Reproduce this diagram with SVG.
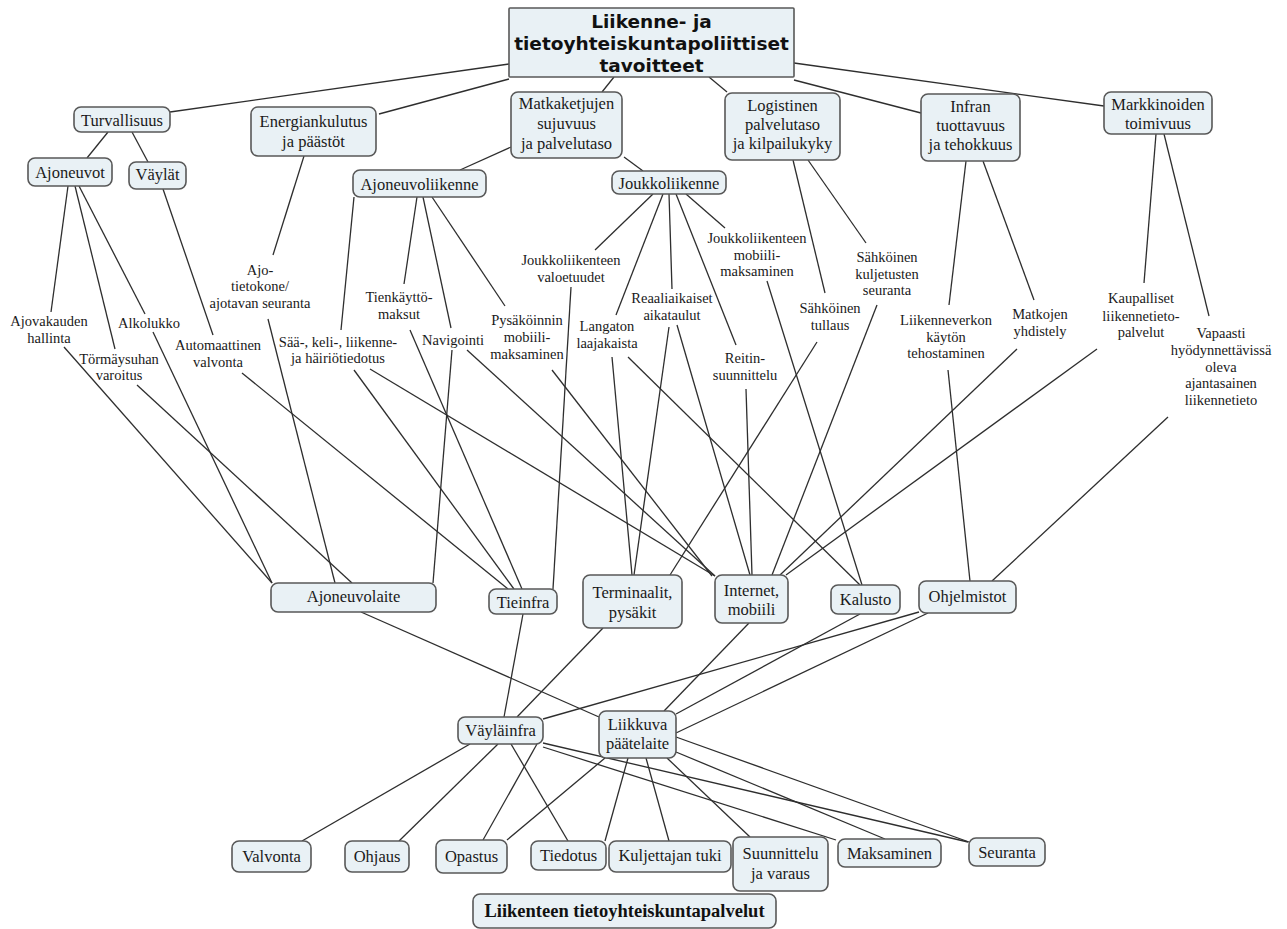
<svg xmlns="http://www.w3.org/2000/svg" width="1287" height="929" viewBox="0 0 1287 929">
<style>
.bg{fill:#ffffff}
.box{fill:#e9f1f5;stroke:#585858;stroke-width:1.6}
.t{font-family:"Liberation Serif","Times New Roman",serif;font-size:16.5px;fill:#1a1a1a;text-anchor:middle}
.l{font-family:"Liberation Serif","Times New Roman",serif;font-size:14.5px;fill:#1a1a1a;text-anchor:middle}
.title{font-family:"DejaVu Sans",Verdana,sans-serif;font-weight:bold;font-size:18.5px;fill:#111;text-anchor:middle}
.bt{font-family:"Liberation Serif","Times New Roman",serif;font-weight:bold;font-size:18.5px;fill:#111;text-anchor:middle}
#connectors line{stroke:#2e2e2e;stroke-width:1.3;fill:none}
</style>
<rect class="bg" x="0" y="0" width="1287" height="929"/>
<g id="connectors">
<line x1="170" y1="112" x2="509" y2="64"/>
<line x1="379" y1="114" x2="509" y2="79"/>
<line x1="602" y1="92" x2="614" y2="77"/>
<line x1="709" y1="77" x2="727" y2="92"/>
<line x1="794" y1="80" x2="921" y2="113"/>
<line x1="794" y1="63" x2="1104" y2="106"/>
<line x1="108" y1="132" x2="87" y2="158"/>
<line x1="132" y1="132" x2="148" y2="162"/>
<line x1="511" y1="147" x2="460" y2="170"/>
<line x1="624" y1="157" x2="643" y2="171"/>
<line x1="304" y1="156" x2="273" y2="255"/>
<line x1="68" y1="186" x2="51" y2="312"/>
<line x1="75" y1="186" x2="115" y2="349"/>
<line x1="79" y1="186" x2="145" y2="314"/>
<line x1="163" y1="189" x2="213" y2="335"/>
<line x1="354" y1="197" x2="341" y2="330"/>
<line x1="417" y1="197" x2="404" y2="284"/>
<line x1="423" y1="197" x2="451" y2="328"/>
<line x1="432" y1="197" x2="505" y2="306"/>
<line x1="653" y1="194" x2="595" y2="250"/>
<line x1="663" y1="194" x2="616" y2="315"/>
<line x1="669" y1="194" x2="672" y2="289"/>
<line x1="676" y1="194" x2="736" y2="345"/>
<line x1="686" y1="194" x2="725" y2="228"/>
<line x1="793" y1="160" x2="825" y2="293"/>
<line x1="808" y1="160" x2="866" y2="243"/>
<line x1="966" y1="161" x2="949" y2="305"/>
<line x1="983" y1="161" x2="1034" y2="300"/>
<line x1="1156" y1="134" x2="1144" y2="283"/>
<line x1="1164" y1="134" x2="1209" y2="316"/>
<line x1="64" y1="347" x2="272" y2="583"/>
<line x1="153" y1="332" x2="272" y2="583"/>
<line x1="137" y1="385" x2="352" y2="583"/>
<line x1="268" y1="319" x2="335" y2="583"/>
<line x1="452" y1="350" x2="433" y2="583"/>
<line x1="242" y1="373" x2="508" y2="589"/>
<line x1="354" y1="370" x2="514" y2="589"/>
<line x1="410" y1="330" x2="522" y2="589"/>
<line x1="571" y1="287" x2="553" y2="589"/>
<line x1="370" y1="369" x2="715" y2="576"/>
<line x1="467" y1="350" x2="715" y2="576"/>
<line x1="552" y1="370" x2="712" y2="576"/>
<line x1="612" y1="357" x2="632" y2="575"/>
<line x1="669" y1="327" x2="634" y2="575"/>
<line x1="817" y1="342" x2="670" y2="575"/>
<line x1="677" y1="325" x2="750" y2="575"/>
<line x1="746" y1="389" x2="752" y2="575"/>
<line x1="877" y1="305" x2="772" y2="575"/>
<line x1="1017" y1="349" x2="780" y2="575"/>
<line x1="1097" y1="349" x2="786" y2="575"/>
<line x1="767" y1="281" x2="862" y2="585"/>
<line x1="628" y1="357" x2="860" y2="585"/>
<line x1="948" y1="370" x2="970" y2="581"/>
<line x1="1168" y1="417" x2="992" y2="581"/>
<line x1="361" y1="612" x2="599" y2="717"/>
<line x1="523" y1="614" x2="504" y2="717"/>
<line x1="603" y1="628" x2="517" y2="717"/>
<line x1="919" y1="612" x2="543" y2="719"/>
<line x1="749" y1="623" x2="664" y2="711"/>
<line x1="860" y1="614" x2="676" y2="714"/>
<line x1="928" y1="613" x2="676" y2="733"/>
<line x1="470" y1="744" x2="302" y2="841"/>
<line x1="498" y1="744" x2="399" y2="841"/>
<line x1="537" y1="744" x2="483" y2="840"/>
<line x1="511" y1="744" x2="568" y2="841"/>
<line x1="543" y1="743" x2="968" y2="842"/>
<line x1="543" y1="747" x2="836" y2="840"/>
<line x1="605" y1="758" x2="507" y2="840"/>
<line x1="628" y1="758" x2="605" y2="841"/>
<line x1="646" y1="758" x2="669" y2="841"/>
<line x1="667" y1="758" x2="750" y2="837"/>
<line x1="676" y1="752" x2="885" y2="839"/>
<line x1="676" y1="737" x2="969" y2="842"/>
</g>
<g id="n-title"><rect class="box" x="509" y="8" width="285" height="69" rx="1"/><text class="title" x="651.5" y="28">Liikenne- ja</text><text class="title" x="651.5" y="50">tietoyhteiskuntapoliittiset</text><text class="title" x="651.5" y="72">tavoitteet</text></g>
<g id="n-turvallisuus"><rect class="box" x="74" y="107" width="96" height="25" rx="7"/><text class="t" x="122" y="125.5">Turvallisuus</text></g>
<g id="n-energia"><rect class="box" x="251" y="107" width="125" height="49" rx="7"/><text class="t" x="313.5" y="126.5">Energiankulutus</text><text class="t" x="313.5" y="146.5">ja päästöt</text></g>
<g id="n-ajoneuvot"><rect class="box" x="28" y="158" width="84" height="28" rx="7"/><text class="t" x="70" y="177.5">Ajoneuvot</text></g>
<g id="n-vaylat"><rect class="box" x="129" y="162" width="57" height="27" rx="7"/><text class="t" x="157.5" y="179.5">Väylät</text></g>
<g id="n-ajoneuvoliikenne"><rect class="box" x="353" y="170" width="133" height="27" rx="7"/><text class="t" x="419.5" y="190">Ajoneuvoliikenne</text></g>
<g id="n-matkaketjut"><rect class="box" x="511" y="92" width="111" height="66" rx="7"/><text class="t" x="566.5" y="108.5">Matkaketjujen</text><text class="t" x="566.5" y="128.5">sujuvuus</text><text class="t" x="566.5" y="148.5">ja palvelutaso</text></g>
<g id="n-joukkoliikenne"><rect class="box" x="612" y="171" width="114" height="23" rx="7"/><text class="t" x="669" y="188.5">Joukkoliikenne</text></g>
<g id="n-logistinen"><rect class="box" x="725" y="93" width="115" height="67" rx="7"/><text class="t" x="782.5" y="110.5">Logistinen</text><text class="t" x="782.5" y="129.5">palvelutaso</text><text class="t" x="782.5" y="148.5">ja kilpailukyky</text></g>
<g id="n-infran"><rect class="box" x="921" y="94" width="99" height="67" rx="7"/><text class="t" x="970.5" y="111.5">Infran</text><text class="t" x="970.5" y="131">tuottavuus</text><text class="t" x="970.5" y="149.5">ja tehokkuus</text></g>
<g id="n-markkinat"><rect class="box" x="1104" y="92" width="108" height="42" rx="7"/><text class="t" x="1158" y="109.5">Markkinoiden</text><text class="t" x="1158" y="128.5">toimivuus</text></g>
<g id="lbl-ajotietokone"><text class="l" x="260" y="275">Ajo-</text><text class="l" x="260" y="291">tietokone/</text><text class="l" x="260" y="308">ajotavan seuranta</text></g>
<g id="lbl-ajovakaus"><text class="l" x="49" y="326">Ajovakauden</text><text class="l" x="49" y="343">hallinta</text></g>
<g id="lbl-alkolukko"><text class="l" x="149" y="328">Alkolukko</text></g>
<g id="lbl-tormays"><text class="l" x="119" y="364">Törmäysuhan</text><text class="l" x="119" y="380">varoitus</text></g>
<g id="lbl-automaattinen"><text class="l" x="218" y="350">Automaattinen</text><text class="l" x="218" y="367">valvonta</text></g>
<g id="lbl-saa"><text class="l" x="338" y="347">Sää-, keli-, liikenne-</text><text class="l" x="338" y="363">ja häiriötiedotus</text></g>
<g id="lbl-tienkaytto"><text class="l" x="399" y="302">Tienkäyttö-</text><text class="l" x="399" y="319">maksut</text></g>
<g id="lbl-navigointi"><text class="l" x="453" y="345">Navigointi</text></g>
<g id="lbl-pysakointi"><text class="l" x="527" y="325">Pysäköinnin</text><text class="l" x="527" y="342">mobiili-</text><text class="l" x="527" y="359">maksaminen</text></g>
<g id="lbl-valoetuudet"><text class="l" x="571" y="265">Joukkoliikenteen</text><text class="l" x="571" y="282">valoetuudet</text></g>
<g id="lbl-langaton"><text class="l" x="607" y="331">Langaton</text><text class="l" x="607" y="348">laajakaista</text></g>
<g id="lbl-reaaliaikaiset"><text class="l" x="672" y="303">Reaaliaikaiset</text><text class="l" x="672" y="320">aikataulut</text></g>
<g id="lbl-jlmaksaminen"><text class="l" x="757" y="243">Joukkoliikenteen</text><text class="l" x="757" y="260">mobiili-</text><text class="l" x="757" y="276">maksaminen</text></g>
<g id="lbl-reitin"><text class="l" x="745" y="363">Reitin-</text><text class="l" x="745" y="380">suunnittelu</text></g>
<g id="lbl-tullaus"><text class="l" x="830" y="313">Sähköinen</text><text class="l" x="830" y="330">tullaus</text></g>
<g id="lbl-kuljetusten"><text class="l" x="887" y="262">Sähköinen</text><text class="l" x="887" y="279">kuljetusten</text><text class="l" x="887" y="295">seuranta</text></g>
<g id="lbl-liikenneverkon"><text class="l" x="946" y="325">Liikenneverkon</text><text class="l" x="946" y="342">käytön</text><text class="l" x="946" y="358">tehostaminen</text></g>
<g id="lbl-matkojen"><text class="l" x="1040" y="319">Matkojen</text><text class="l" x="1040" y="336">yhdistely</text></g>
<g id="lbl-kaupalliset"><text class="l" x="1141" y="303">Kaupalliset</text><text class="l" x="1141" y="321">liikennetieto-</text><text class="l" x="1141" y="337">palvelut</text></g>
<g id="lbl-vapaasti"><text class="l" x="1221" y="338">Vapaasti</text><text class="l" x="1221" y="355">hyödynnettävissä</text><text class="l" x="1221" y="372">oleva</text><text class="l" x="1221" y="388">ajantasainen</text><text class="l" x="1221" y="405">liikennetieto</text></g>
<g id="n-ajoneuvolaite"><rect class="box" x="271" y="583" width="165" height="29" rx="7"/><text class="t" x="353.5" y="601.5">Ajoneuvolaite</text></g>
<g id="n-tieinfra"><rect class="box" x="489" y="589" width="68" height="25" rx="7"/><text class="t" x="523" y="607.5">Tieinfra</text></g>
<g id="n-terminaalit"><rect class="box" x="583" y="575" width="99" height="53" rx="7"/><text class="t" x="632.5" y="597.5">Terminaalit,</text><text class="t" x="632.5" y="617.5">pysäkit</text></g>
<g id="n-internet"><rect class="box" x="715" y="575" width="73" height="48" rx="7"/><text class="t" x="751.5" y="595.5">Internet,</text><text class="t" x="751.5" y="614.5">mobiili</text></g>
<g id="n-kalusto"><rect class="box" x="831" y="585" width="69" height="29" rx="7"/><text class="t" x="865.5" y="604.5">Kalusto</text></g>
<g id="n-ohjelmistot"><rect class="box" x="919" y="581" width="97" height="32" rx="7"/><text class="t" x="967.5" y="601.5">Ohjelmistot</text></g>
<g id="n-vaylainfra"><rect class="box" x="458" y="717" width="85" height="27" rx="7"/><text class="t" x="500.5" y="735.5">Väyläinfra</text></g>
<g id="n-liikkuva"><rect class="box" x="599" y="711" width="77" height="47" rx="7"/><text class="t" x="637.5" y="729.5">Liikkuva</text><text class="t" x="637.5" y="748.5">päätelaite</text></g>
<g id="n-valvonta"><rect class="box" x="232" y="841" width="79" height="31" rx="7"/><text class="t" x="271.5" y="861.5">Valvonta</text></g>
<g id="n-ohjaus"><rect class="box" x="345" y="841" width="64" height="31" rx="7"/><text class="t" x="377" y="861.5">Ohjaus</text></g>
<g id="n-opastus"><rect class="box" x="436" y="840" width="71" height="33" rx="7"/><text class="t" x="471.5" y="861.5">Opastus</text></g>
<g id="n-tiedotus"><rect class="box" x="531" y="841" width="75" height="29" rx="7"/><text class="t" x="568.5" y="860.5">Tiedotus</text></g>
<g id="n-kuljettajan"><rect class="box" x="609" y="841" width="122" height="31" rx="7"/><text class="t" x="670" y="860.5">Kuljettajan tuki</text></g>
<g id="n-suunnittelu"><rect class="box" x="733" y="837" width="95" height="54" rx="7"/><text class="t" x="780.5" y="858.5">Suunnittelu</text><text class="t" x="780.5" y="878.5">ja varaus</text></g>
<g id="n-maksaminen"><rect class="box" x="838" y="839" width="103" height="28" rx="7"/><text class="t" x="889.5" y="858.5">Maksaminen</text></g>
<g id="n-seuranta"><rect class="box" x="969" y="838" width="76" height="28" rx="7"/><text class="t" x="1007" y="857.5">Seuranta</text></g>
<g id="n-palvelut"><rect class="box" x="473" y="894" width="303" height="34" rx="7"/><text class="bt" x="624.5" y="916.5">Liikenteen tietoyhteiskuntapalvelut</text></g>
</svg>
